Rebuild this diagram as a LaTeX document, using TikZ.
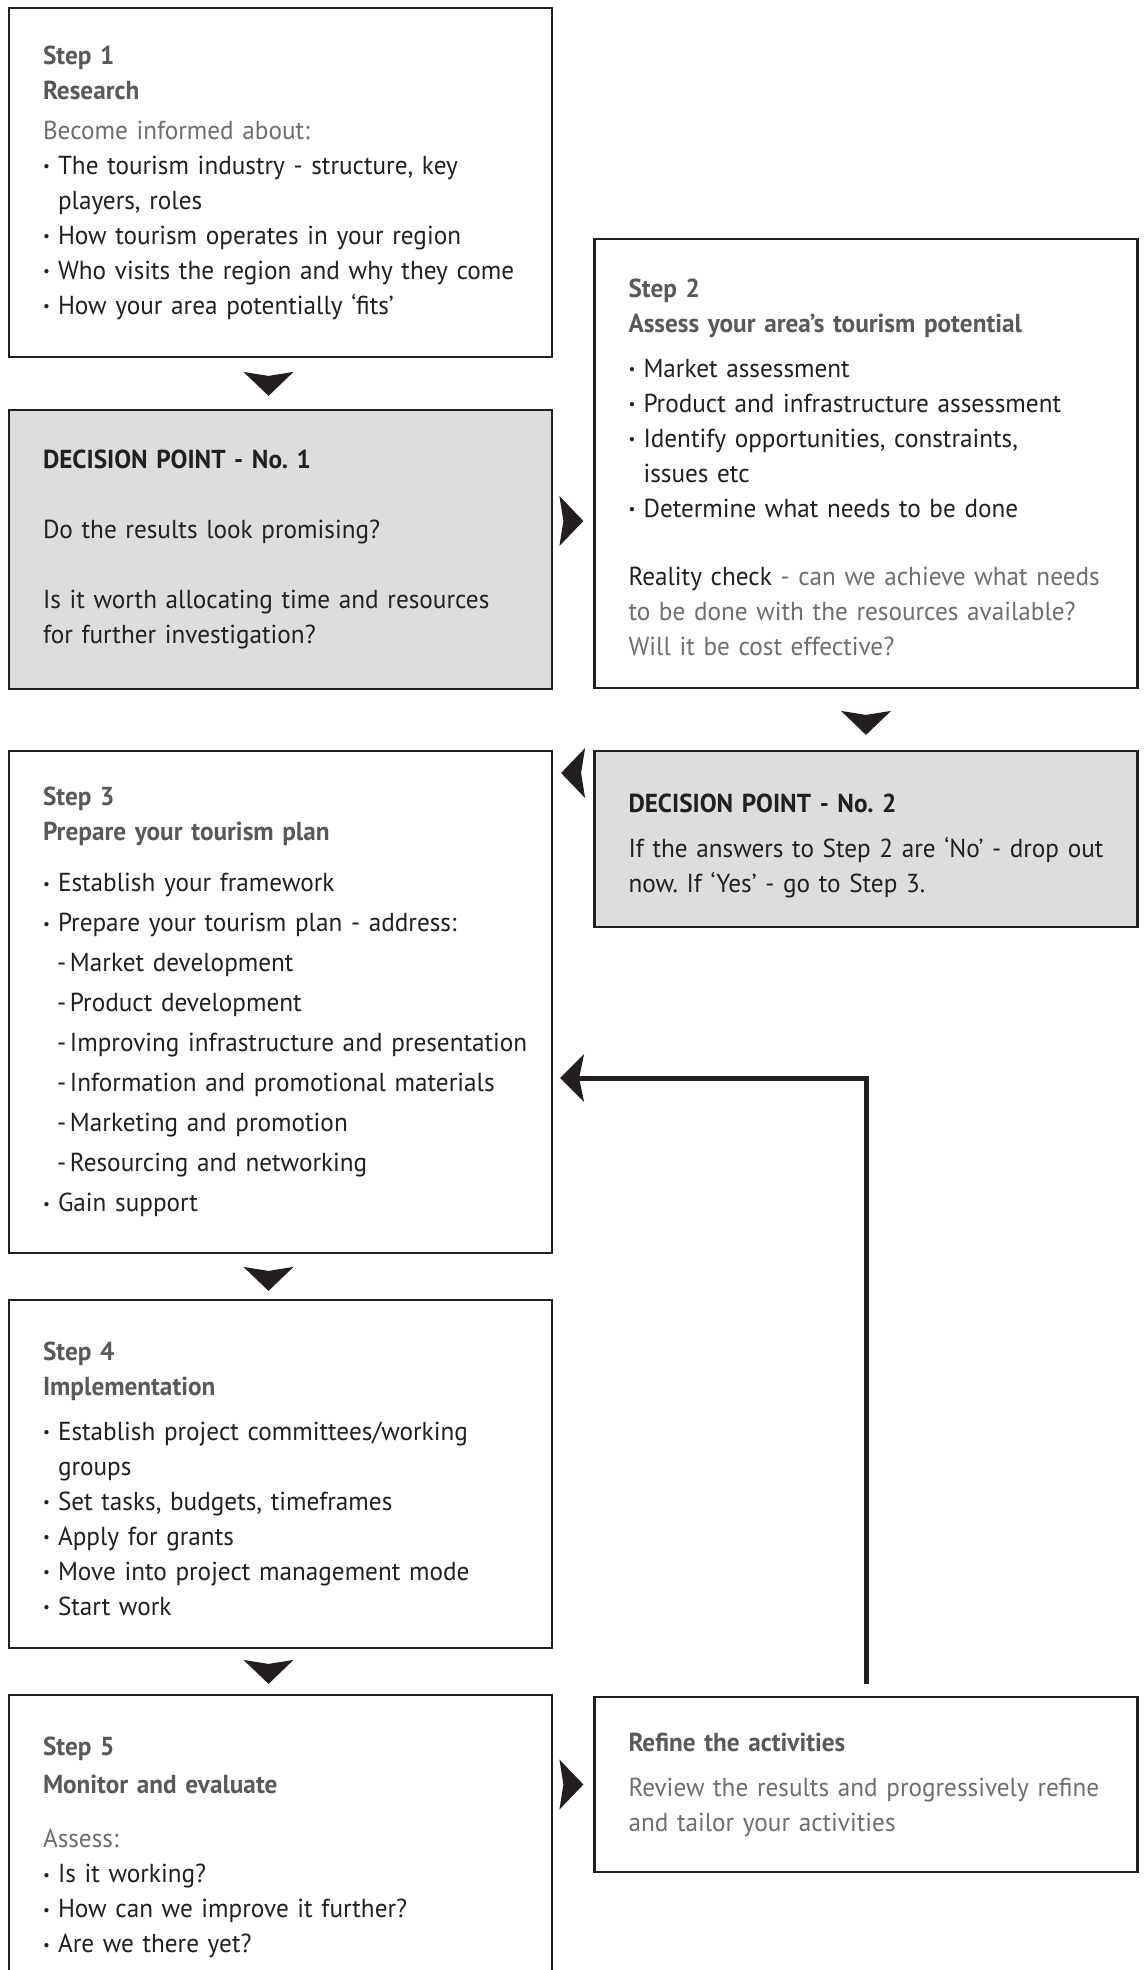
\documentclass[tikz,border=0pt]{standalone}
\usepackage{fontspec}
\setmainfont{PT Sans}[FakeStretch=0.97]
\usepackage{graphicx}
\usetikzlibrary{arrows.meta}
\frenchspacing

\definecolor{ink}{HTML}{231F20}
\definecolor{headgray}{HTML}{58595B}
\definecolor{softgray}{HTML}{6D6E71}
\definecolor{panelgray}{HTML}{DCDDDE}

\newcommand{\stephead}[1]{{\bfseries\color{headgray}#1}}
\newcommand{\bulitm}{\makebox[15pt][l]{\raisebox{2.5pt}{\scalebox{0.6}{•}}}}
\newcommand{\subitm}[1]{\hspace*{14pt}\makebox[13pt][l]{-}\mbox{#1}}
\newcommand{\contind}{\hspace*{15pt}}
\newcommand{\toppad}[1]{\rule{0pt}{#1}}

\tikzset{
  stepbox/.style={draw=ink, line width=2.2pt, fill=white, text=ink,
    minimum width=543pt, text width=475pt, inner xsep=34pt, inner ysep=0pt,
    align=left, font=\fontsize{26}{35}\selectfont},
  decisionbox/.style={stepbox, fill=panelgray},
  flow/.style={draw=white, line width=0.5pt,
    -{Stealth[length=24pt, width=50pt, inset=4pt, line width=0pt, color=ink]}},
  loopback/.style={draw=ink, line width=5pt,
    -{Stealth[length=24pt, width=48pt, inset=5pt, line width=0pt]}}
}

\begin{document}
\begin{tikzpicture}[x=1pt, y=-1pt]
\path[use as bounding box, fill=white] (0,0) rectangle (1144,1970);

\node[stepbox, minimum height=349pt] (step1) at (280.5,182.5) {\stephead{Step 1}\\
\stephead{Research}\\[5pt]
\textcolor{softgray}{Become informed about:}\\
\bulitm The tourism industry - structure, key\\
\contind players, roles\\
\bulitm How tourism operates in your region\\
\bulitm Who visits the region and why they come\\
\bulitm How your area potentially ‘fits’};

\node[decisionbox, minimum height=279pt] (decision1) at (280.5,549.5) {\textbf{DECISION POINT - No. 1}\\[35pt]
Do the results look promising?\\[35pt]
Is it worth allocating time and resources\\
for further investigation?};

\node[stepbox, minimum height=449pt] (step2) at (866,463.5) {\toppad{26pt}\stephead{Step 2}\\
\stephead{Assess your area’s tourism potential}\\[10pt]
\bulitm Market assessment\\
\bulitm Product and infrastructure assessment\\
\bulitm Identify opportunities, constraints,\\
\contind issues etc\\
\bulitm Determine what needs to be done\\[33pt]
Reality check \textcolor{softgray}{- can we achieve what needs}\\
\textcolor{softgray}{to be done with the resources available?}\\
\textcolor{softgray}{Will it be cost effective?}};

\node[decisionbox, minimum height=176pt] (decision2) at (866,839) {\toppad{33pt}\textbf{DECISION POINT - No. 2}\\[10pt]
If the answers to Step 2 are ‘No’ - drop out\\
now. If ‘Yes’ - go to Step 3.};

\node[stepbox, minimum height=502pt] (step3) at (280.5,1002) {\stephead{Step 3}\\
\stephead{Prepare your tourism plan}\\[16pt]
\bulitm Establish your framework\\[5pt]
\bulitm Prepare your tourism plan - address:\\[5pt]
\subitm{Market development}\\[5pt]
\subitm{Product development}\\[5pt]
\subitm{Improving infrastructure and presentation}\\[5pt]
\subitm{Information and promotional materials}\\[5pt]
\subitm{Marketing and promotion}\\[5pt]
\subitm{Resourcing and networking}\\[5pt]
\bulitm Gain support};

\node[stepbox, minimum height=348pt] (step4) at (280.5,1474) {\toppad{28pt}\stephead{Step 4}\\
\stephead{Implementation}\\[10pt]
\bulitm Establish project committees/working\\
\contind groups\\
\bulitm Set tasks, budgets, timeframes\\
\bulitm Apply for grants\\
\bulitm Move into project management mode\\
\bulitm Start work};

\node[stepbox, minimum height=284pt] (step5) at (280.5,1837) {\toppad{40pt}\stephead{Step 5}\\[3pt]
\stephead{Monitor and evaluate}\\[19pt]
\textcolor{softgray}{Assess:}\\
\bulitm Is it working?\\
\bulitm How can we improve it further?\\
\bulitm Are we there yet?};

\node[stepbox, minimum height=175pt] (refine) at (866,1784.5) {\stephead{Refine the activities}\\[10pt]
\textcolor{softgray}{Review the results and progressively refine}\\
\textcolor{softgray}{and tailor your activities}};

\draw[flow, shorten <=16pt, shorten >=13pt] ([xshift=-12pt]step1.south) -- ([xshift=-12pt]decision1.north);
\coordinate (r1) at ([yshift=28.5pt]decision1.east);
\draw[flow, shorten <=8pt, shorten >=10pt] (r1) -- (r1 -| step2.west);
\draw[flow, shorten <=24pt, shorten >=15pt] (step2.south) -- (decision2.north);
\coordinate (l2) at ([yshift=66pt]decision2.west);
\draw[flow, shorten <=10pt, shorten >=8pt] (l2) -- (l2 -| step3.east);
\draw[flow, shorten <=14pt, shorten >=8pt] ([xshift=-12pt]step3.south) -- ([xshift=-12pt]step4.north);
\draw[flow, shorten <=13pt, shorten >=10pt] ([xshift=-12pt]step4.south) -- ([xshift=-12pt]step5.north);
\draw[flow, shorten <=8pt, shorten >=10pt] (step5.east |- refine.west) -- (refine.west);

\coordinate (turn) at (refine.north |- 0,1078);
\draw[loopback, shorten >=7pt] ([yshift=12pt]refine.north) -- (turn) -- (turn -| step3.east);
\end{tikzpicture}
\end{document}
